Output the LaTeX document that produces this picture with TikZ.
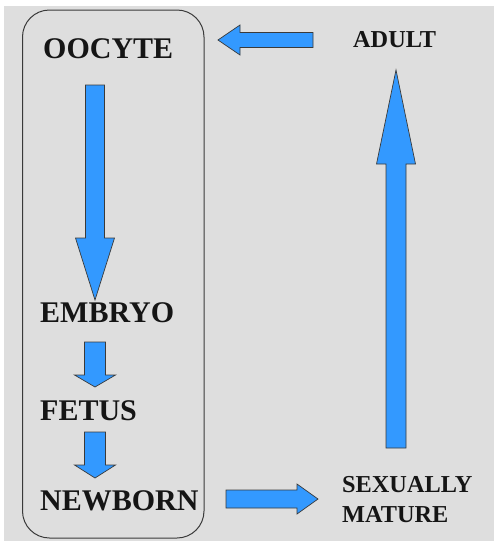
\documentclass[tikz,border=0pt]{standalone}
\usepackage{fontspec}
\newfontfamily\labelfont{Liberation Serif}[BoldFont={Liberation Serif Bold}]
\definecolor{bggray}{HTML}{DEDEDE}
\definecolor{arrowblue}{HTML}{3399FF}
\definecolor{edgegray}{HTML}{3A3A3A}
\definecolor{inkdark}{HTML}{151515}
\tikzset{
  stage/.style={anchor=base west, inner sep=0pt, text=inkdark,
    font=\labelfont\bfseries\fontsize{30}{34}\selectfont},
  sidestage/.style={anchor=base west, inner sep=0pt, text=inkdark,
    font=\labelfont\bfseries\fontsize{24.3}{28}\selectfont},
  blockarrow/.style={fill=arrowblue, draw=edgegray, line width=0.7pt, line join=miter},
}
% vertical block arrow: x-centre, shaft half width, head half width, top y, head base y, tip y
\newcommand{\vblock}[6]{%
  \filldraw[blockarrow] (#1-#2,#4) -- (#1+#2,#4) -- (#1+#2,#5) -- (#1+#3,#5)
    -- (#1,#6) -- (#1-#3,#5) -- (#1-#2,#5) -- cycle;}
% horizontal block arrow: y-centre, shaft half height, head half height, tail x, head base x, tip x
\newcommand{\hblock}[6]{%
  \filldraw[blockarrow] (#4,#1-#2) -- (#4,#1+#2) -- (#5,#1+#2) -- (#5,#1+#3)
    -- (#6,#1) -- (#5,#1-#3) -- (#5,#1-#2) -- cycle;}
\begin{document}
\begin{tikzpicture}[x=1pt,y=-1pt]
\useasboundingbox (0,0) rectangle (494,541);
\fill[white] (0,0) rectangle (494,541);
\fill[bggray] (4,6) rectangle (494,541);

% frame around the prenatal-to-newborn stages
\draw[edgegray, line width=1pt, rounded corners=27pt] (22.5,10) rectangle (204,538);

% stage labels
\node[stage] (oocyte) at (43,58) {OOCYTE};
\node[stage] (embryo) at (40,322) {EMBRYO};
\node[stage] (fetus) at (40,420) {FETUS};
\node[stage] (newborn) at (40,510) {NEWBORN};
\node[sidestage] (adult) at (353,47) {ADULT};
\node[sidestage] (mature) at (342,492) {SEXUALLY};
\node[sidestage] (mature2) at (342,522) {MATURE};

% arrows of the life cycle
\vblock{95}{9.5}{19.5}{85}{238}{300}
\vblock{95}{10.5}{20.5}{342}{375}{387}
\vblock{95}{10.5}{20.5}{432}{465}{478}
\hblock{499}{9}{15}{226}{297}{318}
\vblock{396}{10}{19.5}{448}{164}{70}
\hblock{40}{7.5}{15}{313}{240}{218}
\end{tikzpicture}
\end{document}
